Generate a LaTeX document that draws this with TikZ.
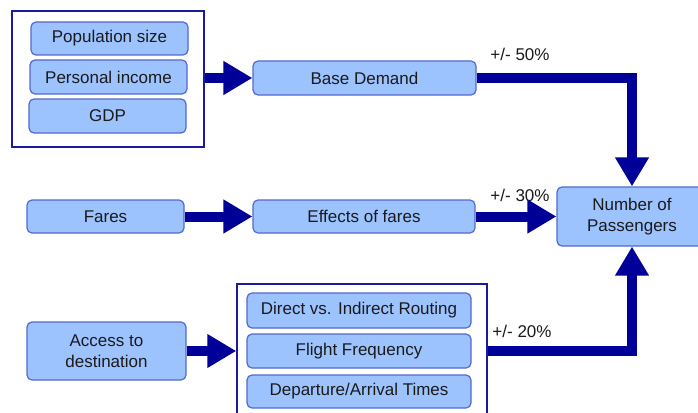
\documentclass[tikz,border=0pt]{standalone}
\usepackage{fontspec}
\setmainfont{Liberation Sans}
\usetikzlibrary{arrows.meta}
\definecolor{boxfill}{HTML}{9DC3FF}
\definecolor{boxline}{HTML}{5468D0}
\definecolor{arrowblue}{HTML}{000099}
\definecolor{frameblue}{HTML}{1A1A9E}
\definecolor{textgrey}{HTML}{1A1A1A}

\begin{document}
\begin{tikzpicture}[x=1pt,y=-1pt,
  box/.style={rectangle,draw=boxline,fill=boxfill,line width=1.2pt,
    rounded corners=5pt,inner sep=0pt,align=center,text=textgrey,
    font=\fontsize{17}{21}\selectfont},
  grpframe/.style={rectangle,draw=frameblue,line width=1.5pt,fill=white,inner sep=0pt},
  pct/.style={inner sep=0pt,text=textgrey,font=\fontsize{17}{21}\selectfont},
  arr/.style={-{Triangle[length=29pt,width=32pt]},line width=10pt,
    draw=arrowblue,line join=miter}]

  \useasboundingbox (0,0) rectangle (698,412);
  \clip (0,0) rectangle (698,412);

  \node[grpframe,minimum width=192pt,minimum height=136pt] (grp1) at (108,79) {};
  \node[box,minimum width=157pt,minimum height=33pt] (pop) at (109.5,38.5) {Population size};
  \node[box,minimum width=157pt,minimum height=34pt] (inc) at (108.5,77) {Personal income};
  \node[box,minimum width=157pt,minimum height=34pt] (gdp) at (107.5,116) {GDP};

  \node[box,minimum width=223pt,minimum height=34pt] (base) at (364.5,78) {Base Demand};
  \node[box,minimum width=157pt,minimum height=33pt] (fares) at (105.5,216.5) {Fares};
  \node[box,minimum width=222pt,minimum height=33pt] (eff) at (364,216.5) {Effects of fares};
  \node[box,minimum width=150pt,minimum height=59pt] (npass) at (632,216.5) {Number of\\Passengers};
  \node[box,minimum width=159pt,minimum height=58pt] (access) at (106.5,351) {Access to\\destination};

  \node[grpframe,minimum width=250pt,minimum height=136pt] (grp2) at (362,352) {};
  \node[box,minimum width=224pt,minimum height=35pt] (direct) at (359,310.5) {Direct vs. Indirect Routing};
  \node[box,minimum width=224pt,minimum height=34pt] (freq) at (359,351) {Flight Frequency};
  \node[box,minimum width=224pt,minimum height=33pt] (dep) at (359,391.5) {Departure/Arrival Times};

  \node[pct] (lbl50) at (520,54) {+/- 50\%};
  \node[pct] (lbl30) at (520,195) {+/- 30\%};
  \node[pct] (lbl20) at (522,331) {+/- 20\%};

  \draw[arr] (grp1.east |- base.west) -- (base.west);
  \draw[arr] (fares) -- (eff);
  \draw[arr] (eff) -- (npass);
  \draw[arr] (access) -- (access -| grp2.west);
  \draw[arr] (base.east) -| (npass.north);
  \draw[arr] (grp2.east |- freq) -| (npass.south);
\end{tikzpicture}
\end{document}
